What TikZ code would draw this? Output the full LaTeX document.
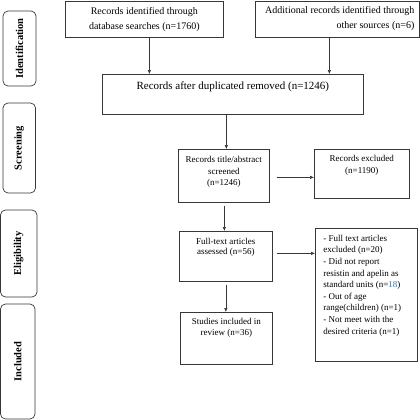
\documentclass[tikz,border=0pt]{standalone}
\usepackage{fontspec}
\setmainfont{Liberation Serif}
\usetikzlibrary{arrows.meta}
\definecolor{lnk}{RGB}{46,116,181}
\definecolor{ln}{RGB}{55,55,55}
\newcommand{\fA}{\fontsize{10}{15}\selectfont}
\newcommand{\fB}{\fontsize{11}{13}\selectfont}
\newcommand{\fC}{\fontsize{9}{11.5}\selectfont}
\newcommand{\fS}{\fontsize{10.5}{12}\selectfont\bfseries}
% width, height, top pad, content
\newcommand{\bxc}[4]{\parbox[t][#2pt][t]{#1pt}{\vspace*{#3pt}\centering #4\par}}
\begin{document}
\begin{tikzpicture}[x=1pt,y=-1pt,
  box/.style={draw=ln, line width=0.7pt, inner sep=0pt, anchor=north west},
  side/.style={draw=ln, line width=0.7pt, rounded corners=5pt, inner sep=0pt, rotate=90, font=\fS},
  arr/.style={draw=ln, line width=0.6pt, -{Latex[length=4pt,width=3.6pt]}}]
\useasboundingbox (0,0) rectangle (420,420);

% side labels
\node[side, minimum width=75pt, minimum height=33pt] (s1) at (19.5,48.5) {Identification};
\node[side, minimum width=90pt, minimum height=32.5pt] (s2) at (19.25,148) {Screening};
\node[side, minimum width=87pt, minimum height=36.5pt] (s3) at (18.75,253.5) {Eligibility};
\node[side, minimum width=115pt, minimum height=34.5pt] (s4) at (17.75,361.5) {Included};

% main boxes
\node[box] (b1) at (65,1) {\fA\bxc{158}{36}{6}{Records identified through\\database searches (n=1760)}};
\node[box] (b2) at (255,1) {\fA\parbox[t][36pt][t]{164pt}{\vspace*{5.5pt}\raggedleft\rightskip=5pt Additional records identified through\\other sources (n=6)\par}};
\node[box] (b3) at (102,74) {\fB\bxc{261}{40}{7.4}{Records after duplicated removed (n=1246)}};
\node[box] (b4) at (178,149) {\fC\bxc{91}{53}{7}{Records title/abstract\\screened\\(n=1246)}};
\node[box] (b5) at (314,149) {\fC\bxc{95}{49}{6.3}{Records excluded\\(n=1190)}};
\node[box] (b6) at (179,231) {\fontsize{9}{10.5}\selectfont\bxc{93}{50}{6.8}{Full-text articles\\assessed (n=56)}};
\node[box] (b7) at (315,228) {\fontsize{9}{11.6}\selectfont\parbox[t][133pt][t]{102pt}{\vspace*{6.8pt}\raggedright\leftskip=8pt
- Full text articles\\
excluded (n=20)\\
- Did not report\\
resistin and apelin as\\
standard units (n=\textcolor{lnk}{18})\\
- Out of age\\
range(children) (n=1)\\
- Not meet with the\\
desired criteria (n=1)\par}};
\node[box] (b8) at (180,312) {\fontsize{9}{10.5}\selectfont\bxc{92}{52}{6.3}{Studies included in\\review (n=36)}};

% connectors
\draw[arr] ([xshift=5pt]b1.south) -- ([xshift=5pt]b1.south |- b3.north);
\draw[arr] ([xshift=-8pt]b2.south) -- ([xshift=-8pt]b2.south |- b3.north);
\draw[arr] ([xshift=2.5pt]b4.north |- b3.south) -- ([xshift=2.5pt]b4.north);
\draw[arr, shorten <=7pt] ([yshift=-1.5pt]b4.east) -- ([yshift=-1.5pt]b4.east -| b5.west);
\draw[arr, shorten <=3pt] ([xshift=0.5pt]b4.south) -- ([xshift=0.5pt]b4.south |- b6.north);
\draw[arr, shorten <=4pt] ([yshift=3pt]b6.east) -- ([yshift=3pt]b6.east -| b7.west);
\draw[arr, shorten <=3pt] (b6.south) -- (b6.south |- b8.north);
\end{tikzpicture}
\end{document}
